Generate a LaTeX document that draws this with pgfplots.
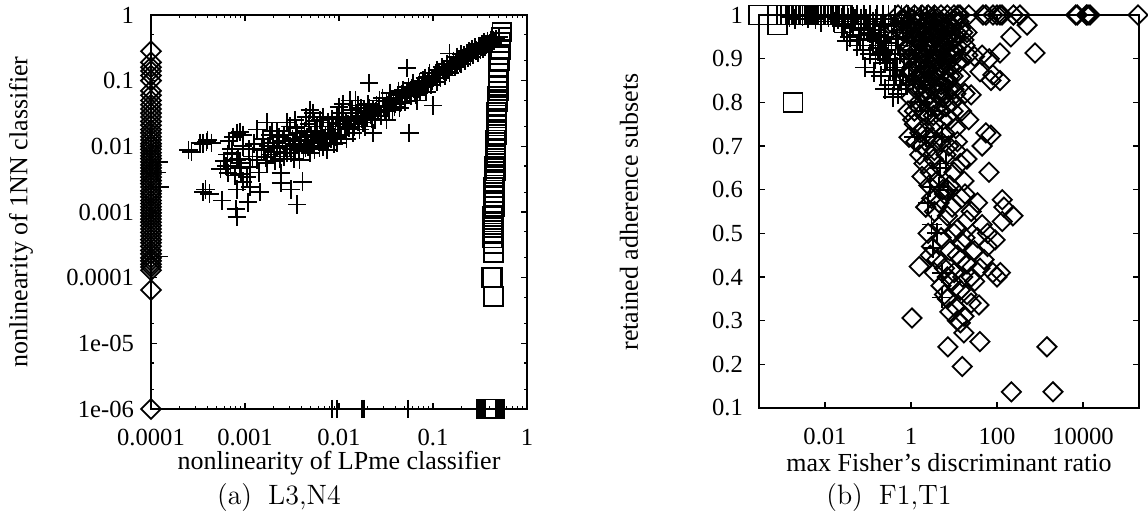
\documentclass[border=0pt]{standalone}
\usepackage{fontspec}
\usepackage{pgfplots}
\usepackage{pgfplotstable}
\pgfplotsset{compat=1.18}
\newfontfamily\tms{Liberation Serif}

% left panel: L3 vs N4
\pgfplotstableread{
x y
1.2e-4 5.8e-3
1.15e-4 4.0e-3
1.25e-4 2.4e-3
1.2e-4 2.1e-4
2.5e-4 8.8e-3
2.7e-4 8.2e-3
3.3e-4 1.13e-2
3.6e-4 1.1e-2
3.9e-4 1.17e-2
4.0e-4 1.25e-2
4.4e-4 1.13e-2
3.6e-4 2.0e-3
3.8e-4 2.2e-3
4.2e-4 1.9e-3
5.7e-4 1.5e-3
6.6e-4 3.9e-3
7.3e-4 7.9e-3
7.8e-4 3.6e-3
8.2e-4 6.2e-3
8.2e-4 8.5e-4
8.0e-4 1.1e-3
8.2e-4 2.2e-3
8.2e-4 1.6e-2
8.9e-4 4.7e-3
8.9e-4 1.66e-2
9.5e-4 1.5e-2
9.5e-4 2.9e-3
6.5e-4 7.5e-3
7.0e-4 5.0e-3
7.5e-4 1.4e-2
6.8e-4 1.2e-2
8.5e-4 6.5e-3
9.0e-4 3.8e-3
9.5e-4 1.0e-2
7.2e-4 9.0e-3
6.0e-4 6.0e-3
5.5e-4 4.5e-3
8.8e-4 5.5e-3
6.3e-4 5.0e-3
9.2e-4 4.8e-3
1.05e-3 3.4e-3
1.07e-3 1.4e-3
1.13e-3 4.8e-3
1.13e-3 2.4e-3
1.2e-3 7.0e-3
1.35e-3 6.2e-3
1.35e-3 1.8e-2
1.45e-3 2.0e-3
1.5e-3 9.0e-3
1.6e-3 8.9e-3
1.7e-3 2.3e-2
1.7e-3 5.5e-3
1.85e-3 1.5e-2
1.9e-3 7.5e-3
2.0e-3 1.13e-2
2.1e-3 6.0e-3
2.2e-3 9.5e-3
2.4e-3 3.9e-3
2.4e-3 2.8e-3
2.5e-3 1.2e-2
2.6e-3 7.0e-3
2.8e-3 7.9e-3
2.8e-3 2.3e-2
3.0e-3 2.0e-2
3.0e-3 1.0e-2
3.1e-3 2.2e-3
3.2e-3 1.3e-2
3.3e-3 6.5e-3
3.4e-3 9.0e-3
3.6e-3 1.6e-2
3.6e-3 1.3e-3
3.8e-3 6.2e-3
3.8e-3 1.1e-2
4.0e-3 1.4e-2
4.1e-3 2.9e-3
4.2e-3 8.5e-3
4.5e-3 2.8e-2
4.5e-3 1.2e-2
4.7e-3 1.0e-2
4.9e-3 7.9e-3
4.9e-3 3.6e-2
5.0e-3 1.5e-2
5.3e-3 1.13e-2
5.3e-3 3.2e-2
5.5e-3 9.0e-3
5.8e-3 2.0e-2
6.0e-3 1.2e-2
6.3e-3 2.5e-2
6.5e-3 1.6e-2
6.8e-3 1.0e-2
7.0e-3 1.3e-2
7.4e-3 8.9e-3
7.8e-3 1.8e-2
8.0e-3 1.6e-2
8.6e-3 2.0e-2
8.8e-3 1.1e-2
9.0e-3 1.4e-2
9.5e-3 1.13e-2
9.8e-3 2.2e-2
1.1e-3 9.0e-3
1.25e-3 1.1e-2
1.4e-3 4.0e-3
1.55e-3 1.3e-2
1.65e-3 6.8e-3
1.75e-3 1.0e-2
1.95e-3 1.7e-2
2.05e-3 8.2e-3
2.3e-3 1.4e-2
2.35e-3 6.5e-3
2.7e-3 1.0e-2
2.9e-3 1.5e-2
3.1e-3 8.0e-3
3.3e-3 1.1e-2
3.5e-3 1.9e-2
3.7e-3 8.8e-3
3.9e-3 1.25e-2
4.3e-3 1.7e-2
4.4e-3 9.5e-3
4.6e-3 1.4e-2
4.8e-3 2.2e-2
5.1e-3 1.25e-2
5.6e-3 1.7e-2
5.9e-3 1.4e-2
6.2e-3 9.5e-3
6.6e-3 2.0e-2
7.2e-3 1.5e-2
7.6e-3 2.3e-2
8.2e-3 1.3e-2
8.4e-3 2.6e-2
9.2e-3 1.8e-2
2.2e-3 1.7e-2
2.6e-3 1.5e-2
3.4e-3 2.5e-2
4.0e-3 2.0e-2
5.5e-3 2.4e-2
6.8e-3 2.8e-2
7.5e-3 1.1e-2
8.5e-3 1.5e-2
9.6e-3 2.8e-2
1.1e-2 4.4e-2
1.5e-2 5.0e-2
1.7e-2 3.8e-2
1.0e-2 4.0e-2
1.05e-2 1.5e-2
1.1e-2 2.6e-2
1.15e-2 1.8e-2
1.2e-2 1.3e-2
1.25e-2 2.2e-2
1.3e-2 5.0e-2
1.35e-2 2.8e-2
1.4e-2 1.6e-2
1.45e-2 2.0e-2
1.55e-2 3.2e-2
1.6e-2 2.4e-2
1.65e-2 1.8e-2
1.7e-2 2.9e-2
1.8e-2 2.3e-2
1.85e-2 3.5e-2
1.9e-2 2.0e-2
2.0e-2 2.7e-2
2.1e-2 9.2e-2
2.1e-2 3.8e-2
2.2e-2 3.0e-2
2.3e-2 3.6e-2
2.3e-2 1.6e-2
2.4e-2 2.5e-2
2.5e-2 4.2e-2
2.6e-2 3.3e-2
2.7e-2 5.0e-2
2.8e-2 2.9e-2
3.0e-2 4.0e-2
3.2e-2 2.5e-2
3.2e-2 4.8e-2
3.4e-2 3.6e-2
3.5e-2 6.5e-2
3.7e-2 3.6e-2
3.8e-2 5.2e-2
4.0e-2 4.4e-2
4.2e-2 6.0e-2
4.4e-2 3.8e-2
4.6e-2 5.5e-2
4.8e-2 7.2e-2
5.0e-2 4.8e-2
5.3e-2 1.55e-1
5.3e-2 6.5e-2
5.6e-2 1.6e-2
5.8e-2 5.8e-2
6.1e-2 9.2e-2
6.3e-2 7.5e-2
6.5e-2 6.0e-2
6.7e-2 5.0e-2
7.0e-2 8.5e-2
7.3e-2 7.0e-2
7.8e-2 1.0e-1
8.0e-2 8.0e-2
8.5e-2 6.8e-2
8.8e-2 9.5e-2
9.2e-2 1.3e-1
9.5e-2 8.5e-2
1.0e-1 4.2e-2
1.0e-1 1.1e-1
1.02e-2 2.0e-2
1.08e-2 3.2e-2
1.18e-2 2.4e-2
1.28e-2 1.9e-2
1.38e-2 3.6e-2
1.5e-2 2.6e-2
1.58e-2 4.2e-2
1.75e-2 2.6e-2
1.95e-2 3.2e-2
2.05e-2 4.4e-2
2.25e-2 2.6e-2
2.45e-2 3.4e-2
2.65e-2 4.0e-2
2.9e-2 5.5e-2
3.1e-2 3.4e-2
3.3e-2 4.2e-2
3.6e-2 5.0e-2
3.9e-2 4.0e-2
4.1e-2 5.4e-2
4.3e-2 7.0e-2
4.5e-2 4.6e-2
4.7e-2 6.3e-2
5.1e-2 5.8e-2
5.5e-2 8.0e-2
5.7e-2 6.8e-2
6.0e-2 7.8e-2
6.4e-2 6.6e-2
6.9e-2 7.6e-2
7.2e-2 9.5e-2
7.6e-2 8.4e-2
8.2e-2 1.1e-1
8.7e-2 8.8e-2
9.0e-2 1.15e-1
9.7e-2 1.0e-1
0.105 0.12
0.11 0.145
0.11 0.095
0.115 0.13
0.12 0.11
0.125 0.16
0.13 0.14
0.135 0.12
0.14 0.18
0.145 0.15
0.15 0.26
0.15 0.13
0.16 0.17
0.165 0.2
0.17 0.16
0.18 0.23
0.18 0.19
0.19 0.21
0.2 0.18
0.2 0.25
0.21 0.22
0.22 0.2
0.23 0.26
0.23 0.24
0.24 0.28
0.25 0.23
0.26 0.3
0.27 0.26
0.28 0.32
0.29 0.29
0.3 0.27
0.31 0.34
0.32 0.3
0.33 0.36
0.34 0.31
0.35 0.38
0.36 0.33
0.37 0.35
0.38 0.4
0.39 0.32
0.4 0.37
0.41 0.42
0.43 0.37
0.45 0.4
0.47 0.43
0.5 0.46
0.108 0.13
0.118 0.12
0.128 0.15
0.138 0.135
0.155 0.165
0.175 0.18
0.185 0.2
0.195 0.19
0.215 0.24
0.235 0.22
0.255 0.27
0.265 0.25
0.285 0.28
0.305 0.3
0.325 0.33
0.345 0.34
0.365 0.36
0.385 0.36
0.42 0.39
0.44 0.41
0.0084 1e-6
0.0095 1e-6
0.0176 1e-6
0.0184 1e-6
0.054 1e-6
}\lplus

\pgfplotstableread{
x y
0.54 0.55
0.53 0.45
0.52 0.38
0.52 0.3
0.51 0.25
0.51 0.2
0.5 0.16
0.5 0.13
0.49 0.1
0.49 0.085
0.5 0.07
0.48 0.058
0.49 0.048
0.48 0.04
0.47 0.033
0.48 0.027
0.47 0.022
0.47 0.018
0.48 0.015
0.46 0.0125
0.47 0.0105
0.46 0.0088
0.47 0.0072
0.46 0.006
0.45 0.005
0.46 0.0042
0.45 0.0035
0.45 0.0029
0.44 0.0024
0.45 0.002
0.44 0.0017
0.44 0.0014
0.45 0.0012
0.44 0.001
0.43 0.00085
0.44 0.0007
0.44 0.00058
0.43 0.00048
0.43 0.0004
0.44 0.00033
0.44 0.00024
0.43 0.0001
0.42 0.0001
0.44 5.2e-5
0.37 1e-6
0.39 1e-6
0.41 1e-6
0.43 1e-6
0.45 1e-6
}\lsq

\pgfplotstableread{
x y
1e-4 0.28
1e-4 0.19
1e-4 0.16
1e-4 0.14
1e-4 0.12
1e-4 0.1
1e-4 0.07
1e-4 0.06
1e-4 0.05
1e-4 0.043
1e-4 0.037
1e-4 0.032
1e-4 0.028
1e-4 0.024
1e-4 0.021
1e-4 0.018
1e-4 0.016
1e-4 0.014
1e-4 0.0125
1e-4 0.011
1e-4 0.01
1e-4 0.009
1e-4 0.008
1e-4 0.0072
1e-4 0.0065
1e-4 0.0058
1e-4 0.0052
1e-4 0.0047
1e-4 0.0042
1e-4 0.0038
1e-4 0.0034
1e-4 0.003
1e-4 0.0027
1e-4 0.0024
1e-4 0.0021
1e-4 0.0019
1e-4 0.0017
1e-4 0.0015
1e-4 0.00135
1e-4 0.0012
1e-4 0.00108
1e-4 0.00097
1e-4 0.00087
1e-4 0.00078
1e-4 0.0007
1e-4 0.00062
1e-4 0.00055
1e-4 0.00049
1e-4 0.00043
1e-4 0.00038
1e-4 0.00034
1e-4 0.0003
1e-4 0.00026
1e-4 0.00023
1e-4 0.0002
1e-4 0.00018
1e-4 0.00016
1e-4 0.000145
1e-4 0.00013
1e-4 6.5e-5
1e-4 1e-6
}\ldia

% right panel: F1 vs T1
\pgfplotstableread{
x y
2.9e-4 1
7.7e-4 1
7.7e-4 0.977
1.3e-3 1
1.6e-3 1
2.0e-3 1
2.4e-3 1
2.9e-3 1
3.5e-3 1
4.2e-3 1
5.0e-3 1
6.0e-3 1
7.2e-3 1
8.6e-3 1
1.05e-2 1
1.3e-2 1
1.6e-2 1
2.0e-2 1
2.6e-2 1
1.8e-3 0.8
}\rsq

\pgfplotstableread{
x y
1.3e-3 1
1.8e-3 1
2.5e-3 1
3.5e-3 1
5e-3 1
7e-3 1
0.01 1
0.014 1
0.02 1
0.028 1
0.04 1
0.055 1
0.08 1
0.11 1
0.16 1
0.22 1
0.3 1
0.42 1
0.6 1
0.85 1
1.2 1
1.7 1
2.4 1
3.4 1
0.012 0.995
0.02 0.99
0.035 0.993
0.05 0.99
0.09 0.99
0.15 0.99
0.3 0.99
0.03 0.98
0.06 0.98
0.1 0.98
0.2 0.98
0.4 0.98
0.045 0.97
0.07 0.965
0.1 0.96
0.15 0.95
0.2 0.94
0.25 0.935
0.038 0.95
0.065 0.943
0.11 0.958
0.13 0.93
0.17 0.925
0.19 0.908
0.22 0.915
0.3 0.91
0.28 0.897
0.33 0.9
0.25 0.89
0.38 0.874
0.32 0.875
0.085 0.88
0.4 0.85
0.45 0.86
0.55 0.85
0.38 0.813
0.5 0.82
0.6 0.83
0.7 0.88
0.9 0.9
1.2 0.92
0.8 0.95
1.5 0.94
0.5 0.93
0.65 0.96
1.0 0.97
2.0 0.96
1.5e-3 0.995
2e-3 0.99
3e-3 0.998
4e-3 0.992
6e-3 0.99
8e-3 0.985
0.016 0.985
0.025 0.975
0.04 0.985
0.06 0.955
0.08 0.97
0.12 0.945
0.14 0.965
0.18 0.955
0.24 0.95
0.26 0.92
0.35 0.93
0.42 0.9
0.48 0.88
0.55 0.91
0.65 0.86
0.75 0.84
0.9 0.86
1.1 0.85
1.3 0.88
1.1 0.95
1.6 0.97
2.2 0.93
0.11 0.91
0.15 0.9
0.055 0.93
0.075 0.92
0.028 0.96
0.033 0.94
0.14 0.87
0.2 0.86
0.3 0.84
0.25 0.83
0.018 0.998
0.025 0.992
0.045 0.995
0.07 0.99
0.13 0.985
0.25 0.975
0.35 0.96
0.45 0.945
1.2 0.72
2.2 0.72
5.2 0.72
2.8 0.607
4.4 0.607
2.5 0.57
3.2 0.467
5.2 0.41
5.2 0.353
7.2 0.6
4.7 0.65
6.5 0.66
3.0 0.52
4.0 0.5
1.6 0.8
2.5 0.78
3.5 0.84
}\rplus

\pgfplotstableread{
x y
0.5 1
0.8 1
1.2 1
1.8 1
2.5 1
3.5 1
5 1
7 1
10 1
12.4 1
13.8 1
22 1
47 1
55 1
81 1
100 1
117 1
130 1
240 1
340 1
6800 1
7300 1
1.2e4 1
1.3e4 1
1.45e4 1
1.9e5 1
0.3 0.98
0.45 0.97
0.7 0.99
1 0.96
1.4 0.98
2 0.97
2.8 0.95
4 0.96
6 0.97
8 0.95
12 0.958
17 0.943
3.2 0.99
1.6 0.94
0.9 0.93
5 0.985
9 0.975
14 0.97
20 0.96
1.1 0.99
2.3 0.985
4.5 0.94
6.5 0.95
0.6 0.965
1.8 0.955
3.6 0.975
10 0.99
0.8 0.975
2.5 0.93
7 0.935
500 0.977
210 0.95
0.6 0.99
0.9 0.985
1.3 0.97
1.7 0.99
2.1 0.955
2.7 0.975
3.0 0.96
3.8 0.99
4.2 0.95
5.5 0.965
6.0 0.94
7.5 0.98
8.5 0.96
11 0.95
13 0.985
16 0.96
1.2 0.95
1.5 0.96
2.6 0.94
3.4 0.93
4.8 0.91
5.6 0.93
7.8 0.92
10 0.91
12 0.93
1.0 0.92
1.7 0.91
2.8 0.9
3.8 0.89
4.2 0.91
6.8 0.89
8.5 0.88
13 0.89
0.55 0.985
0.75 0.96
0.95 0.975
1.25 0.985
1.9 0.975
2.4 0.96
3.3 0.955
4.6 0.975
5.8 0.955
7 0.965
9.5 0.94
1.4 0.92
2.1 0.915
3.1 0.905
4 0.895
5.2 0.905
6.3 0.9
8 0.905
1.6 0.895
2.6 0.875
3.3 0.865
4.5 0.875
1.3 0.855
2.1 0.845
2.9 0.835
5 0.825
6.8 0.845
0.8 0.92
1.1 0.91
1.5 0.93
2 0.9
2.5 0.92
3 0.925
3.5 0.9
4.5 0.92
5 0.89
6 0.925
7 0.91
9 0.9
11 0.92
15 0.9
18 0.93
1.3 0.89
2.2 0.88
0.9 0.9
21 0.908
30 0.905
45 0.908
66 0.9
117 0.913
760 0.913
1.1 0.87
1.4 0.88
1.9 0.87
2.9 0.86
3.6 0.87
4.6 0.86
5.8 0.87
7.2 0.85
9.5 0.86
1.3 0.83
1.8 0.84
2.3 0.83
3.9 0.82
5.5 0.81
7.5 0.83
11 0.82
2.2 0.81
0.8 0.86
0.9 0.87
1.2 0.84
1.6 0.86
2 0.82
2.6 0.85
3.2 0.83
4 0.87
5 0.84
6.5 0.82
8 0.86
1 0.81
1.5 0.8
3 0.8
10 0.83
14 0.86
18 0.82
9 0.8
6 0.85
2.4 0.88
40 0.87
80 0.863
117 0.85
72 0.85
25 0.817
4.2 0.79
6.5 0.79
1.2 0.78
2.0 0.78
3.3 0.77
5.5 0.76
9.5 0.78
1.6 0.73
2.4 0.72
4.0 0.71
7.5 0.7
12 0.71
0.85 0.78
1.1 0.76
1.5 0.79
2 0.74
2.5 0.77
3 0.72
3.5 0.75
4.5 0.78
6 0.73
8 0.76
11 0.74
0.9 0.72
1.3 0.71
1.8 0.7
2.8 0.79
5 0.71
15 0.78
1.2 0.75
22 0.76
55 0.73
72 0.725
45 0.7
1.6 0.68
2 0.66
2.4 0.69
2.8 0.64
3.3 0.67
4 0.62
5 0.65
6.5 0.68
8 0.61
10 0.64
14 0.66
3.5 0.69
1.8 0.63
2.6 0.61
7 0.6
11 0.69
17 0.62
20 0.67
65 0.64
3 0.58
3.5 0.55
4.5 0.57
5 0.52
6 0.59
7 0.54
9 0.56
12 0.51
15 0.58
20 0.53
25 0.55
35 0.57
45 0.52
60 0.5
5.5 0.6
18 0.59
10 0.5
2.2 0.56
132 0.577
145 0.56
235 0.54
132 0.527
2.5 0.5
1.55 0.424
3 0.47
4 0.44
5 0.49
6 0.42
8 0.46
10 0.41
12 0.45
15 0.48
20 0.43
25 0.4
30 0.46
40 0.42
50 0.44
80 0.41
90 0.485
100 0.4
120 0.41
3.5 0.41
7 0.4
18 0.49
2.8 0.45
60 0.47
35 0.49
14 0.44
5 0.38
7 0.35
9 0.39
11 0.33
14 0.37
17 0.31
20 0.36
25 0.34
30 0.39
38 0.336
12 0.3
8 0.32
6 0.36
16 0.4
1.05 0.306
7.2 0.24
15.5 0.195
40 0.252
17 0.272
14 0.295
1450 0.24
215 0.137
2000 0.137
}\rdia

\begin{document}
\begin{tikzpicture}
\pgfplotsset{
  gp/.style={
    scale only axis, anchor=south west, clip=false,
    axis line style={line width=0.75pt},
    tick align=inside, major tick length=3pt, minor tick length=1.6pt,
    every tick/.style={black, line width=0.6pt},
    tick label style={font=\tms\fontsize{12.3}{14}\selectfont},
  },
  pts/.style={only marks, black, line width=0.9pt},
}

\begin{axis}[gp, at={(75.5pt,57pt)}, width=188pt, height=197pt,
  xmode=log, ymode=log, xmin=1e-4, xmax=1, ymin=1e-6, ymax=1,
  xtick={1e-4,1e-3,1e-2,1e-1,1}, xticklabels={0.0001,0.001,0.01,0.1,1},
  minor xtick={2e-4,3e-4,4e-4,5e-4,6e-4,7e-4,8e-4,9e-4,2e-3,3e-3,4e-3,5e-3,6e-3,7e-3,8e-3,9e-3,
    2e-2,3e-2,4e-2,5e-2,6e-2,7e-2,8e-2,9e-2,0.2,0.3,0.4,0.5,0.6,0.7,0.8,0.9},
  ytick={1e-6,1e-5,1e-4,1e-3,1e-2,1e-1,1},
  yticklabels={1e-06,1e-05,0.0001,0.001,0.01,0.1,1},
  minor ytick={2e-6,5e-6,2e-5,5e-5,2e-4,5e-4,2e-3,5e-3,2e-2,5e-2,0.2,0.5},
  xticklabel shift=6.5pt, yticklabel shift=5pt]
\addplot[pts, mark=+, mark size=4.6pt] table {\lplus};
\addplot[pts, mark=square, mark size=4.7pt] table {\lsq};
\addplot[pts, mark=square, mark size=3.5pt, mark options={rotate=45}] table {\ldia};
\end{axis}

\begin{axis}[gp, at={(379.5pt,57.5pt)}, width=190pt, height=196.5pt,
  xmode=log, xmin=2.92e-4, xmax=2.0e5, ymin=0.1, ymax=1,
  xtick={1e-2,1,1e2,1e4}, xticklabels={0.01,1,100,10000}, xminorticks=false,
  ytick={0.1,0.2,0.3,0.4,0.5,0.6,0.7,0.8,0.9,1},
  yticklabels={0.1,0.2,0.3,0.4,0.5,0.6,0.7,0.8,0.9,1},
  xticklabel shift=6.5pt, yticklabel shift=4.5pt]
\addplot[pts, mark=square, mark size=4.75pt] table {\rsq};
\addplot[pts, mark=+, mark size=5pt] table {\rplus};
\addplot[pts, mark=square, mark size=3.4pt, mark options={rotate=45}] table {\rdia};
\end{axis}

\begin{scope}[font=\tms\fontsize{13}{15}\selectfont]
\node at (169.5pt,30pt) {nonlinearity of LPme classifier};
\node[rotate=90] at (10.5pt,155.5pt) {nonlinearity of 1NN classifier};
\node at (474.5pt,30pt) {max Fisher’s discriminant ratio};
\node[rotate=90] at (314.5pt,155.5pt) {retained adherence subsets};
\end{scope}
\node[font=\fontsize{14}{16}\selectfont] at (139.5pt,12.5pt) {(a)\hspace{8pt}L3,N4};
\node[font=\fontsize{14}{16}\selectfont] at (444.5pt,12.5pt) {(b)\hspace{8pt}F1,T1};

\pgfresetboundingbox
\path[use as bounding box] (0,0) rectangle (574pt,261.5pt);
\end{tikzpicture}
\end{document}
